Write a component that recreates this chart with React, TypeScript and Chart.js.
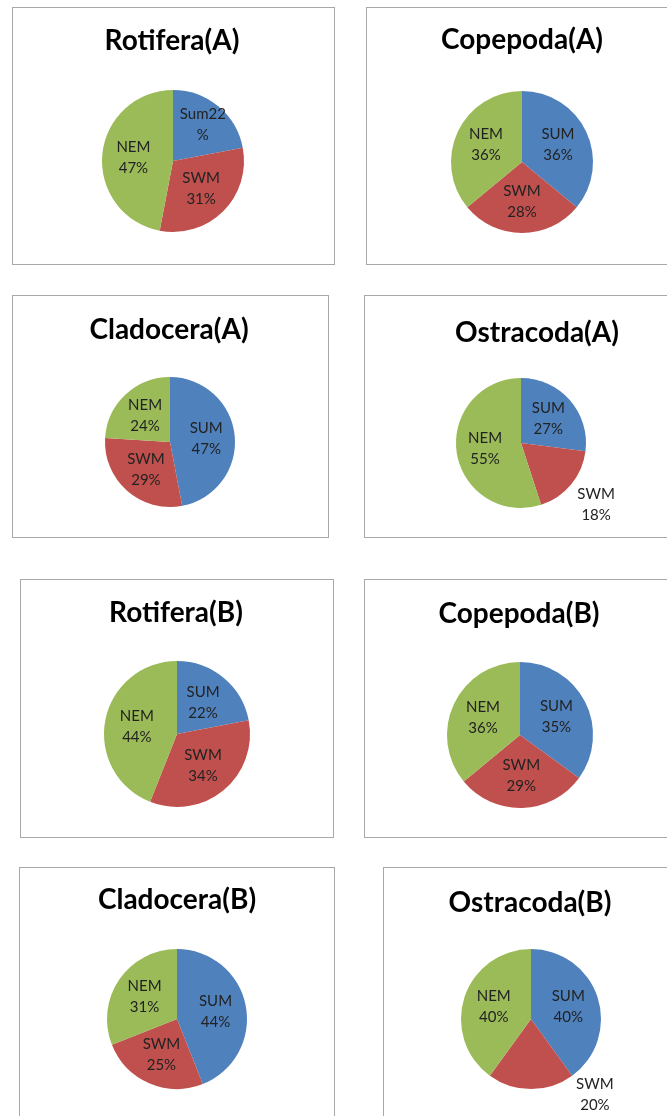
import React, { useEffect, useRef } from "react";
import { Chart, registerables } from "chart.js";

Chart.register(...registerables);

// ---- data ----
const SEASONS = ["SUM", "SWM", "NEM"];
const SEASONS_ROTIFERA_A = ["Sum", "SWM", "NEM"];
const COLORS = ["#4F81BD", "#C0504D", "#9BBB59"];

const ROTIFERA_A = [22, 31, 47];
const COPEPODA_A = [36, 28, 36];
const CLADOCERA_A = [47, 29, 24];
const OSTRACODA_A = [27, 18, 55];
const ROTIFERA_B = [22, 34, 44];
const COPEPODA_B = [35, 29, 36];
const CLADOCERA_B = [44, 25, 31];
const OSTRACODA_B = [40, 20, 40];

const TITLES = [
  "Rotifera(A)",
  "Copepoda(A)",
  "Cladocera(A)",
  "Ostracoda(A)",
  "Rotifera(B)",
  "Copepoda(B)",
  "Cladocera(B)",
  "Ostracoda(B)",
];

// ---- layout (page pixels) ----
type Panel = {
  title: string;
  names: string[];
  values: number[];
  box: [number, number, number, number];
  titleCenter: [number, number];
  pie: [number, number];
  r: number;
  joined?: number[];
  outside?: { index: number; angleDeg?: number; k: number };
};

const PANELS: Panel[] = [
  { title: TITLES[0], names: SEASONS_ROTIFERA_A, values: ROTIFERA_A, box: [12, 7, 323, 258], titleCenter: [172, 39.5], pie: [173, 161], r: 71, joined: [0] },
  { title: TITLES[1], names: SEASONS, values: COPEPODA_A, box: [366, 7, 312, 258], titleCenter: [522, 39], pie: [522, 162], r: 71 },
  { title: TITLES[2], names: SEASONS, values: CLADOCERA_A, box: [12, 295, 317, 243], titleCenter: [169, 329], pie: [170, 442], r: 65 },
  { title: TITLES[3], names: SEASONS, values: OSTRACODA_A, box: [364, 295, 346, 243], titleCenter: [537, 332], pie: [521, 443], r: 65, outside: { index: 1, k: 1.5 } },
  { title: TITLES[4], names: SEASONS, values: ROTIFERA_B, box: [20, 579, 314, 259], titleCenter: [176, 612], pie: [177, 734], r: 73 },
  { title: TITLES[5], names: SEASONS, values: COPEPODA_B, box: [364, 579, 312, 259], titleCenter: [519, 613], pie: [520, 735], r: 73 },
  { title: TITLES[6], names: SEASONS, values: CLADOCERA_B, box: [19, 867, 316, 270], titleCenter: [177, 899], pie: [177, 1019], r: 70 },
  { title: TITLES[7], names: SEASONS, values: OSTRACODA_B, box: [383, 867, 296, 270], titleCenter: [530, 902], pie: [531, 1019], r: 70, outside: { index: 1, angleDeg: 50, k: 1.42 } },
];

const TITLE_FONT_SIZE = 28;
const LABEL_FONT_SIZE = 15;
const LABEL_LINE_GAP = 21;
const INSIDE_K = 0.56;
const JOINED_K = 0.66;

function PiePanel({ panel }: { panel: Panel }) {
  const ref = useRef<HTMLCanvasElement>(null);
  const [bx, by, bw, bh] = panel.box;
  const W = bw - 2;
  const H = bh - 2;

  useEffect(() => {
    const canvas = ref.current;
    if (!canvas) return;
    const cx = panel.pie[0] - bx - 1;
    const cy = panel.pie[1] - by - 1;
    const r = panel.r;
    const tx = panel.titleCenter[0] - bx - 1;
    const ty = panel.titleCenter[1] - by - 1;

    const labelPlugin = {
      id: "panelLabels",
      afterDraw(chart: any) {
        const ctx = chart.ctx as CanvasRenderingContext2D;
        ctx.save();
        // title
        ctx.font = `bold ${TITLE_FONT_SIZE}px Lato, "Open Sans", sans-serif`;
        ctx.fillStyle = "#000000";
        ctx.textAlign = "center";
        ctx.textBaseline = "alphabetic";
        ctx.fillText(panel.title, tx, ty + (TITLE_FONT_SIZE * 0.7165) / 2);

        // data labels
        ctx.font = `${LABEL_FONT_SIZE}px Lato, "Open Sans", sans-serif`;
        ctx.fillStyle = "#222222";
        ctx.textBaseline = "middle";
        const meta = chart.getDatasetMeta(0);
        const ds = chart.data.datasets[0].data as number[];
        const names = chart.data.labels as string[];
        meta.data.forEach((arc: any, i: number) => {
          const p = arc.getProps(["x", "y", "startAngle", "endAngle", "outerRadius"], true);
          const mid = (p.startAngle + p.endAngle) / 2;
          let ang = mid;
          const joined = !!(panel.joined && panel.joined.includes(i));
          let k = joined ? JOINED_K : INSIDE_K;
          if (panel.outside && panel.outside.index === i) {
            k = panel.outside.k;
            if (panel.outside.angleDeg !== undefined) ang = (panel.outside.angleDeg * Math.PI) / 180;
          }
          const lx = p.x + Math.cos(ang) * p.outerRadius * k;
          const ly = p.y + Math.sin(ang) * p.outerRadius * k;
          const lines = joined ? [`${names[i]}${ds[i]}`, "%"] : [names[i], `${ds[i]}%`];
          ctx.fillText(lines[0], lx, ly - LABEL_LINE_GAP / 2);
          ctx.fillText(lines[1], lx, ly + LABEL_LINE_GAP / 2);
        });
        ctx.restore();
      },
    };

    const chart = new Chart(canvas, {
      type: "pie",
      data: {
        labels: panel.names,
        datasets: [
          {
            data: panel.values,
            backgroundColor: COLORS,
            borderWidth: 0,
            hoverBorderWidth: 0,
            hoverOffset: 0,
            radius: r,
          } as any,
        ],
      },
      options: {
        responsive: false,
        animation: false,
        devicePixelRatio: 1,
        events: [],
        layout: {
          padding: {
            left: cx - r,
            right: W - cx - r,
            top: cy - r,
            bottom: H - cy - r,
          },
        },
        plugins: {
          legend: { display: false },
          tooltip: { enabled: false },
          title: { display: false },
        },
      } as any,
      plugins: [labelPlugin],
    });

    if ((document as any).fonts && (document as any).fonts.ready) {
      (document as any).fonts.ready.then(() => {
        try {
          chart.draw();
        } catch (e) {}
      });
    }
    return () => chart.destroy();
  }, [panel]);

  return (
    <div
      style={{
        position: "absolute",
        left: bx,
        top: by,
        width: bw,
        height: bh,
        boxSizing: "border-box",
        border: "1px solid #a8a8a8",
        background: "#ffffff",
      }}
    >
      <canvas
        ref={ref}
        width={W}
        height={H}
        style={{ position: "absolute", left: 0, top: 0, width: W, height: H }}
      />
    </div>
  );
}

export default function App() {
  return (
    <div
      style={{
        position: "absolute",
        left: 0,
        top: 0,
        width: 667,
        height: 1116,
        overflow: "hidden",
        background: "#ffffff",
      }}
    >
      {PANELS.map((p) => (
        <PiePanel key={p.title} panel={p} />
      ))}
    </div>
  );
}
